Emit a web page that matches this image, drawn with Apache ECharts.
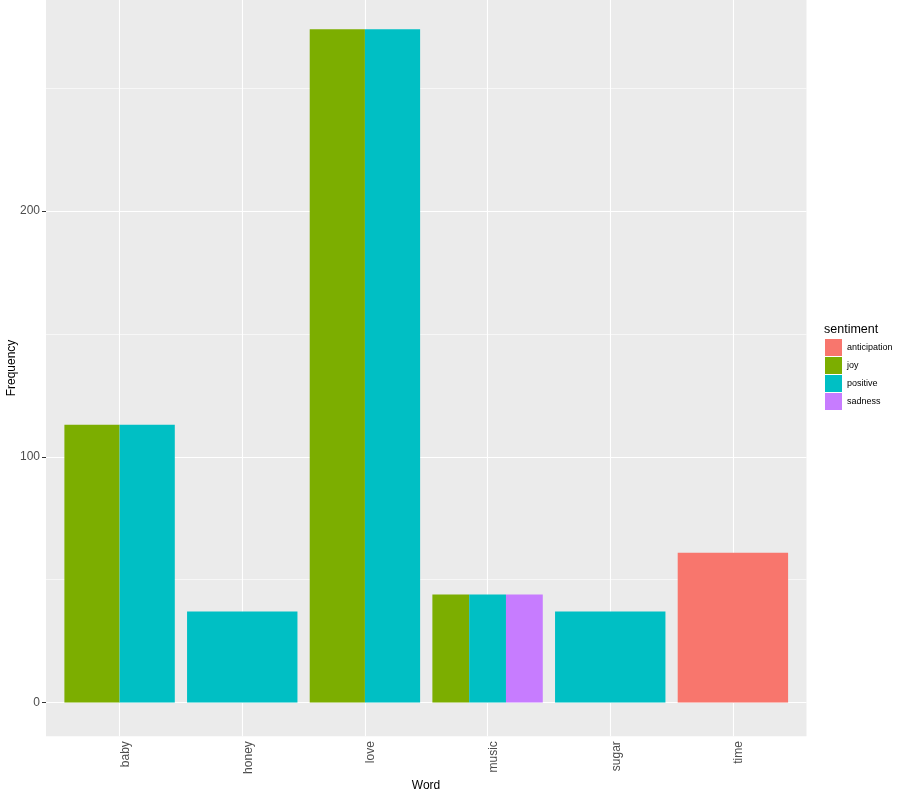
<!DOCTYPE html>
<html>
<head>
<meta charset="utf-8">
<script src="https://cdn.jsdelivr.net/npm/echarts@6/dist/echarts.min.js"></script>
<style>html,body{margin:0;padding:0;background:#fff;}#chart{width:907px;height:797px;}</style>
</head>
<body>
<div id="chart"></div>
<script>
// ---- data ----
const words = ['baby', 'honey', 'love', 'music', 'sugar', 'time'];
const sentiments = ['anticipation', 'joy', 'positive', 'sadness'];
const anticipation = [null, null, null, null, null, 61];
const joy = [113, null, 274, 44, null, null];
const positive = [113, 37, 274, 44, 37, null];
const sadness = [null, null, null, 44, null, null];
const yTicks = [0, 100, 200];
const yMinor = [50, 150, 250];

const colors = ['#F8766D', '#7CAE00', '#00BFC4', '#C77CFF'];
const valueSets = [anticipation, joy, positive, sadness];

// dodge: for each word, which sentiments are present
const present = words.map((w, i) => sentiments.map((s, k) => k).filter(k => valueSets[k][i] != null));

const DODGE = 0.9;
function renderBar(params, api) {
  const x = api.value(0), v = api.value(1), slot = api.value(2), n = api.value(3);
  const w = DODGE / n;
  const x0 = x - DODGE / 2 + slot * w;
  const p0 = api.coord([x0, v]);
  const p1 = api.coord([x0 + w, 0]);
  return {
    type: 'rect',
    shape: { x: p0[0], y: p0[1], width: p1[0] - p0[0], height: p1[1] - p0[1] },
    style: { fill: api.visual('color') }
  };
}

const barSeries = sentiments.map((s, k) => ({
  name: s,
  type: 'custom',
  z: 10,
  itemStyle: { color: colors[k] },
  renderItem: renderBar,
  encode: { x: 0, y: 1 },
  data: words.map((w, i) => valueSets[k][i] == null ? null :
    [i + 1, valueSets[k][i], present[i].indexOf(k), present[i].length]).filter(d => d)
}));

const gridSeries = {
  type: 'line',
  data: [],
  z: 1,
  silent: true,
  markLine: {
    z: 1,
    silent: true,
    symbol: ['none', 'none'],
    label: { show: false },
    animation: false,
    data: [
      ...yMinor.map(v => ({ yAxis: v, lineStyle: { color: '#ffffff', width: 0.6, type: 'solid' } })),
      ...yTicks.map(v => ({ yAxis: v, lineStyle: { color: '#ffffff', width: 1.1, type: 'solid' } })),
      ...words.map((w, i) => ({ xAxis: i + 1, lineStyle: { color: '#ffffff', width: 1.1, type: 'solid' } }))
    ]
  }
};

const chart = echarts.init(document.getElementById('chart'));
chart.setOption({
  animation: false,
  backgroundColor: '#ffffff',
  textStyle: { fontFamily: 'Liberation Sans, Arial, sans-serif' },
  grid: { left: 46, right: 100.5, top: 0, bottom: 60.8, show: true, backgroundColor: '#EBEBEB', borderWidth: 0 },
  xAxis: {
    type: 'value', min: 0.4, max: 6.6,
    axisLine: { show: false },
    splitLine: { show: false },
    axisTick: { show: true, length: 4, lineStyle: { color: '#333333', width: 1 }, customValues: [1, 2, 3, 4, 5, 6] },
    axisLabel: {
      customValues: [1, 2, 3, 4, 5, 6],
      formatter: v => words[Math.round(v) - 1],
      rotate: 90, margin: 5, verticalAlign: 'top',
      color: '#4D4D4D', fontSize: 12, fontFamily: 'Liberation Sans, Arial, sans-serif'
    }
  },
  yAxis: {
    type: 'value', min: -13.7, max: 285.9,
    axisLine: { show: false },
    splitLine: { show: false },
    axisTick: { show: true, length: 4, lineStyle: { color: '#333333', width: 1 }, customValues: yTicks },
    axisLabel: {
      customValues: yTicks, margin: 6,
      color: '#4D4D4D', fontSize: 12, fontFamily: 'Liberation Sans, Arial, sans-serif'
    }
  },
  legend: {
    orient: 'vertical', left: 825, top: 339, padding: 0,
    itemWidth: 17, itemHeight: 17, itemGap: 1,
    icon: 'rect',
    data: sentiments,
    selectedMode: false,
    textStyle: { fontSize: 9, color: '#000000', fontFamily: 'Liberation Sans, Arial, sans-serif' }
  },
  graphic: [
    { type: 'text', left: 824, top: 323, style: { text: 'sentiment', fontSize: 12.5, fill: '#000', fontFamily: 'Liberation Sans, Arial, sans-serif' } },
    { type: 'text', x: 426, y: 786, style: { text: 'Word', fontSize: 12, fill: '#000', align: 'center', verticalAlign: 'middle', fontFamily: 'Liberation Sans, Arial, sans-serif' } },
    { type: 'text', x: 12, y: 368, rotation: Math.PI / 2, style: { text: 'Frequency', fontSize: 12, fill: '#000', align: 'center', verticalAlign: 'middle', fontFamily: 'Liberation Sans, Arial, sans-serif' } }
  ],
  series: [gridSeries, ...barSeries]
});
</script>
</body>
</html>
